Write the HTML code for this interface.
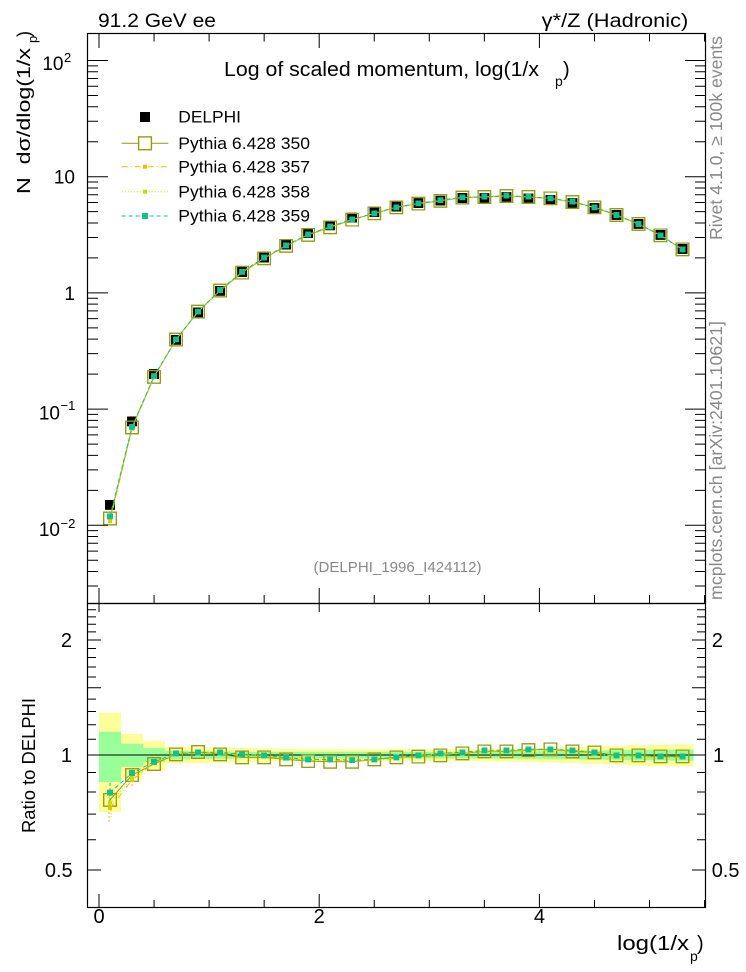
<!DOCTYPE html>
<html>
<head>
<meta charset="utf-8">
<style>
html,body{margin:0;padding:0;background:#fff;}
svg{display:block;}
text{font-family:"Liberation Sans","DejaVu Sans",Arial,sans-serif;fill:#000;}
</style>
</head>
<body>
<svg width="746" height="972" viewBox="0 0 746 972" xmlns="http://www.w3.org/2000/svg">
<defs>
<clipPath id="cm"><rect x="87" y="33" width="619" height="570"/></clipPath>
<clipPath id="cr"><rect x="87" y="603" width="619" height="304"/></clipPath>
<marker id="mD" markerUnits="userSpaceOnUse" markerWidth="10" markerHeight="10" refX="5" refY="5" orient="0"><rect width="10" height="10" fill="#000"/></marker>
<marker id="m350" markerUnits="userSpaceOnUse" markerWidth="14" markerHeight="14" refX="7" refY="7" orient="0"><rect x="0.7" y="0.7" width="12.6" height="12.6" fill="none" stroke="#9a9a10" stroke-width="1.4"/></marker>
<marker id="m357" markerUnits="userSpaceOnUse" markerWidth="4" markerHeight="4" refX="2" refY="2" orient="0"><rect width="4" height="4" fill="#e6c200"/></marker>
<marker id="m358" markerUnits="userSpaceOnUse" markerWidth="4" markerHeight="4" refX="2" refY="2" orient="0"><rect width="4" height="4" fill="#c4dc00"/></marker>
<marker id="m359" markerUnits="userSpaceOnUse" markerWidth="6" markerHeight="6" refX="3" refY="3" orient="0"><rect width="6" height="6" fill="#14c08a"/></marker>
</defs>

<!-- top labels -->
<text x="98" y="27" font-size="19" textLength="118" lengthAdjust="spacingAndGlyphs">91.2 GeV ee</text>
<text x="541.7" y="27" font-size="19" textLength="146.6" lengthAdjust="spacingAndGlyphs">γ*/Z (Hadronic)</text>

<!-- title -->
<text x="224" y="76" font-size="20" textLength="315" lengthAdjust="spacingAndGlyphs">Log of scaled momentum, log(1/x</text>
<text x="555" y="86" font-size="14">p</text>
<text x="563" y="76" font-size="20">)</text>

<!-- y axis label -->
<g transform="translate(30,194) rotate(-90)">
<text x="0" y="0" font-size="18" textLength="146" lengthAdjust="spacingAndGlyphs">N&#160;&#160;dσ/dlog(1/x</text>
<text x="151" y="7" font-size="13">p</text>
<text x="157" y="0" font-size="18">)</text>
</g>

<!-- right side labels -->
<g transform="translate(722,240) rotate(-90)">
<text x="0" y="0" font-size="17.5" style="fill:#888" textLength="204" lengthAdjust="spacingAndGlyphs">Rivet 4.1.0, ≥ 100k events</text>
</g>
<g transform="translate(722,600) rotate(-90)">
<text x="0" y="0" font-size="17.5" style="fill:#888" textLength="279" lengthAdjust="spacingAndGlyphs">mcplots.cern.ch [arXiv:2401.10621]</text>
</g>

<!-- ratio label -->
<g transform="translate(35,833) rotate(-90)">
<text x="0" y="0" font-size="18" textLength="135" lengthAdjust="spacingAndGlyphs">Ratio to DELPHI</text>
</g>

<!-- main y tick labels -->
<text x="63.5" y="70" font-size="19" text-anchor="end">10</text>
<text x="64" y="62" font-size="13">2</text>
<text x="75" y="183.5" font-size="19" text-anchor="end">10</text>
<text x="75" y="300" font-size="19" text-anchor="end">1</text>
<text x="60" y="419.3" font-size="19" text-anchor="end">10</text>
<text x="60.5" y="410" font-size="13">−1</text>
<text x="60" y="536" font-size="19" text-anchor="end">10</text>
<text x="60.5" y="528" font-size="13">−2</text>

<!-- ratio y tick labels -->
<text x="72" y="647" font-size="20" text-anchor="end">2</text>
<text x="72" y="762" font-size="20" text-anchor="end">1</text>
<text x="72.7" y="877" font-size="20" text-anchor="end">0.5</text>
<text x="711.7" y="647" font-size="20">2</text>
<text x="713" y="762" font-size="20">1</text>
<text x="711.7" y="877" font-size="20">0.5</text>

<!-- x tick labels -->
<text x="99" y="923" font-size="20" text-anchor="middle">0</text>
<text x="319.2" y="923" font-size="20" text-anchor="middle">2</text>
<text x="539.4" y="923" font-size="20" text-anchor="middle">4</text>

<!-- x title -->
<text x="617" y="950" font-size="20" textLength="72" lengthAdjust="spacingAndGlyphs">log(1/x</text>
<text x="690" y="961" font-size="14">p</text>
<text x="697" y="950" font-size="20">)</text>

<!-- DELPHI id label -->
<text x="397.5" y="572" font-size="15" text-anchor="middle" style="fill:#888" textLength="168" lengthAdjust="spacingAndGlyphs">(DELPHI_1996_I424112)</text>

<!-- ================= RATIO PANEL ================= -->
<g clip-path="url(#cr)">
<path fill="#ffff99" d="M99,712.76 H121.02 V733.99 H143.04 V741.01 H165.06 V746.91 H187.08 V747.38 H209.10 V747.70 H231.12 V748.02 H253.14 V748.49 H275.16 V748.81 H297.18 V748.97 H341.22 V749.13 H451.32 V748.97 H473.34 V748.81 H495.36 V748.49 H517.38 V748.17 H539.40 V747.70 H561.42 V747.22 H583.44 V746.59 H605.46 V745.96 H627.48 V745.02 H649.50 V744.55 H671.52 V744.40 H693.54 V766.33 H671.52 V766.15 H649.50 V765.62 H627.48 V764.56 H605.46 V763.86 H583.44 V763.16 H561.42 V762.64 H539.40 V762.12 H517.38 V761.77 H495.36 V761.43 H473.34 V761.25 H451.32 V761.08 H341.22 V761.25 H297.18 V761.43 H275.16 V761.77 H253.14 V762.29 H231.12 V762.64 H209.10 V762.99 H187.08 V763.51 H165.06 V770.28 H143.04 V779.06 H121.02 V811.82 H99 Z"/>
<path fill="#99ff99" d="M99,731.81 H121.02 V743.78 H143.04 V748.17 H165.06 V750.90 H187.08 V751.23 H209.10 V751.39 H231.12 V751.71 H495.36 V751.55 H517.38 V751.39 H539.40 V751.23 H561.42 V750.90 H583.44 V750.58 H605.46 V750.25 H627.48 V749.93 H649.50 V749.77 H671.52 V749.61 H693.54 V760.57 H671.52 V760.40 H649.50 V760.23 H627.48 V759.88 H605.46 V759.54 H583.44 V759.20 H561.42 V758.86 H539.40 V758.69 H517.38 V758.52 H495.36 V758.35 H231.12 V758.69 H209.10 V758.86 H187.08 V759.20 H165.06 V762.12 H143.04 V767.04 H121.02 V781.96 H99 Z"/>
<line x1="87" y1="755" x2="706" y2="755" stroke="#000" stroke-width="1"/>

<!-- error bars first points -->
<line x1="110" y1="783" x2="110" y2="803" stroke="#14c08a" stroke-width="1" stroke-dasharray="3,2"/>
<line x1="109" y1="796" x2="109" y2="822" stroke="#e6c200" stroke-width="1" stroke-dasharray="2,2"/>
<line x1="111" y1="792" x2="111" y2="818" stroke="#c4dc00" stroke-width="1" stroke-dasharray="1,2"/>
<line x1="132" y1="768" x2="132" y2="787" stroke="#e6c200" stroke-width="1" stroke-dasharray="2,2"/>

<polyline fill="none" stroke="#9a9a10" stroke-width="1" marker-start="url(#m350)" marker-mid="url(#m350)" marker-end="url(#m350)" points="110.01,799.87 132.03,775.08 154.05,764.03 176.07,754.34 198.09,752.04 220.11,754.34 242.13,757.34 264.15,757.34 286.17,759.37 308.19,761.08 330.21,761.77 352.23,761.77 374.25,759.37 396.27,757.34 418.29,756.67 440.31,755.33 462.33,753.35 484.35,751.39 506.37,751.39 528.39,750.10 550.41,749.29 572.43,751.39 594.45,752.37 616.47,755.33 638.49,755.33 660.51,756.33 682.53,756.33"/>
<polyline fill="none" stroke="#e6c200" stroke-width="1" stroke-dasharray="6,3,1,3" marker-start="url(#m357)" marker-mid="url(#m357)" marker-end="url(#m357)" points="110.01,808.12 132.03,780.02 154.05,762.99 176.07,754.35 198.09,753.37 220.11,753.37 242.13,755.34 264.15,756.33 286.17,758.67 308.19,760.37 330.21,760.37 352.23,761.23 374.25,760.37 396.27,758.34 418.29,756.33 440.31,754.35 462.33,753.37 484.35,751.26 506.37,751.26 528.39,750.29 550.41,750.29 572.43,751.26 594.45,753.37 616.47,756.33 638.49,756.33 660.51,757.33 682.53,757.33"/>
<polyline fill="none" stroke="#c4dc00" stroke-width="1" stroke-dasharray="1,2" marker-start="url(#m358)" marker-mid="url(#m358)" marker-end="url(#m358)" points="110.01,802.73 132.03,778.10 154.05,762.64 176.07,753.85 198.09,752.87 220.11,752.87 242.13,754.84 264.15,755.83 286.17,758.17 308.19,759.87 330.21,759.87 352.23,760.73 374.25,759.87 396.27,757.84 418.29,755.83 440.31,753.85 462.33,752.87 484.35,750.76 506.37,750.76 528.39,749.79 550.41,749.79 572.43,750.76 594.45,752.87 616.47,755.83 638.49,755.83 660.51,756.83 682.53,756.83"/>
<polyline fill="none" stroke="#14c08a" stroke-width="1" stroke-dasharray="4,3" marker-start="url(#m359)" marker-mid="url(#m359)" marker-end="url(#m359)" points="110.01,792.64 132.03,773.03 154.05,761.77 176.07,753.35 198.09,752.37 220.11,752.37 242.13,754.34 264.15,755.33 286.17,757.67 308.19,759.37 330.21,759.37 352.23,760.23 374.25,759.37 396.27,757.34 418.29,755.33 440.31,753.35 462.33,752.37 484.35,750.26 506.37,750.26 528.39,749.29 550.41,749.29 572.43,750.26 594.45,752.37 616.47,755.33 638.49,755.33 660.51,756.33 682.53,756.33"/>
</g>

<!-- ================= MAIN PANEL ================= -->
<g clip-path="url(#cm)">
<polyline fill="none" stroke="none" marker-start="url(#mD)" marker-mid="url(#mD)" marker-end="url(#mD)" points="110.01,504.84 132.03,421.31 154.05,374.12 176.07,339.77 198.09,312.51 220.11,290.78 242.13,271.97 264.15,257.57 286.17,244.49 308.19,233.03 330.21,225.26 352.23,217.67 374.25,211.98 396.27,206.59 418.29,203.16 440.31,200.74 462.33,198.05 484.35,198.13 506.37,197.14 528.39,198.44 550.41,200.02 572.43,203.16 594.45,208.08 616.47,214.91 638.49,223.83 660.51,234.84 682.53,248.93"/>
<polyline fill="none" stroke="#9a9a10" stroke-width="1" marker-start="url(#m350)" marker-mid="url(#m350)" marker-end="url(#m350)" points="110.01,518.49 132.03,427.42 154.05,376.87 176.07,339.57 198.09,311.61 220.11,290.58 242.13,272.68 264.15,258.28 286.17,245.82 308.19,234.88 330.21,227.32 352.23,219.73 374.25,213.31 396.27,207.30 418.29,203.67 440.31,200.84 462.33,197.55 484.35,197.03 506.37,196.04 528.39,196.95 550.41,198.28 572.43,202.06 594.45,207.28 616.47,215.01 638.49,223.93 660.51,235.25 682.53,249.34"/>
<polyline fill="none" stroke="#e6c200" stroke-width="1" stroke-dasharray="6,3,1,3" marker-start="url(#m357)" marker-mid="url(#m357)" marker-end="url(#m357)" points="110.01,521.0 132.03,428.92 154.05,376.55 176.07,339.57 198.09,312.01 220.11,290.28 242.13,272.07 264.15,257.97 286.17,245.60 308.19,234.66 330.21,226.89 352.23,219.56 374.25,213.61 396.27,207.60 418.29,203.56 440.31,200.54 462.33,197.55 484.35,196.99 506.37,196.00 528.39,197.00 550.41,198.58 572.43,202.02 594.45,207.58 616.47,215.31 638.49,224.23 660.51,235.55 682.53,249.64"/>
<polyline fill="none" stroke="#c4dc00" stroke-width="1" stroke-dasharray="1,2" marker-start="url(#m358)" marker-mid="url(#m358)" marker-end="url(#m358)" points="110.01,519.36 132.03,428.34 154.05,376.44 176.07,339.42 198.09,311.86 220.11,290.13 242.13,271.92 264.15,257.82 286.17,245.45 308.19,234.51 330.21,226.74 352.23,219.41 374.25,213.46 396.27,207.45 418.29,203.41 440.31,200.39 462.33,197.40 484.35,196.84 506.37,195.85 528.39,196.85 550.41,198.43 572.43,201.87 594.45,207.43 616.47,215.16 638.49,224.08 660.51,235.40 682.53,249.49"/>
<polyline fill="none" stroke="#14c08a" stroke-width="1" stroke-dasharray="4,3" marker-start="url(#m359)" marker-mid="url(#m359)" marker-end="url(#m359)" points="110.01,516.29 132.03,426.80 154.05,376.18 176.07,339.27 198.09,311.71 220.11,289.98 242.13,271.77 264.15,257.67 286.17,245.30 308.19,234.36 330.21,226.59 352.23,219.26 374.25,213.31 396.27,207.30 418.29,203.26 440.31,200.24 462.33,197.25 484.35,196.69 506.37,195.70 528.39,196.70 550.41,198.28 572.43,201.72 594.45,207.28 616.47,215.01 638.49,223.93 660.51,235.25 682.53,249.34"/>
</g>

<!-- legend -->
<rect x="140" y="112" width="10" height="10" fill="#000"/>
<text x="178.3" y="122.7" font-size="17" textLength="62.7" lengthAdjust="spacingAndGlyphs">DELPHI</text>
<line x1="121.7" y1="143.3" x2="168.3" y2="143.3" stroke="#9a9a10" stroke-width="1"/>
<rect x="138.6" y="136.9" width="12.8" height="12.8" fill="#fff" stroke="#9a9a10" stroke-width="1.4"/>
<text x="178.3" y="149" font-size="17" textLength="131.7" lengthAdjust="spacingAndGlyphs">Pythia 6.428 350</text>
<line x1="121.7" y1="166.7" x2="168.3" y2="166.7" stroke="#e6c200" stroke-width="1" stroke-dasharray="6,3,1,3"/>
<rect x="143" y="164.7" width="4" height="4" fill="#e6c200"/>
<text x="178.3" y="172.5" font-size="17" textLength="131.7" lengthAdjust="spacingAndGlyphs">Pythia 6.428 357</text>
<line x1="121.7" y1="191.7" x2="168.3" y2="191.7" stroke="#c4dc00" stroke-width="1" stroke-dasharray="1,2"/>
<rect x="143" y="189.7" width="4" height="4" fill="#c4dc00"/>
<text x="178.3" y="197.5" font-size="17" textLength="131.7" lengthAdjust="spacingAndGlyphs">Pythia 6.428 358</text>
<line x1="121.7" y1="216" x2="168.3" y2="216" stroke="#14c08a" stroke-width="1" stroke-dasharray="4,3"/>
<rect x="142" y="213" width="6" height="6" fill="#14c08a"/>
<text x="178.3" y="221.7" font-size="17" textLength="131.7" lengthAdjust="spacingAndGlyphs">Pythia 6.428 359</text>

<!-- frames -->
<g fill="none" stroke="#000" stroke-width="1.2">
<rect x="87.5" y="33.5" width="618" height="570"/>
<rect x="87.5" y="603.5" width="618" height="304"/>
</g>

<!-- ticks -->
<g fill="none" stroke="#000" stroke-width="1">
<!-- main y major left/right -->
<path d="M87,60.5h21 M87,176.7h21 M87,292.9h21 M87,409.1h21 M87,525.3h21 M706,60.5h-21 M706,176.7h-21 M706,292.9h-21 M706,409.1h-21 M706,525.3h-21"/>
<!-- main y minor left -->
<path d="M87,141.72h11 M87,121.26h11 M87,106.74h11 M87,95.48h11 M87,86.28h11 M87,78.5h11 M87,71.76h11 M87,65.82h11 M87,257.92h11 M87,237.46h11 M87,222.94h11 M87,211.68h11 M87,202.48h11 M87,194.7h11 M87,187.96h11 M87,182.02h11 M87,374.12h11 M87,353.66h11 M87,339.14h11 M87,327.88h11 M87,318.68h11 M87,310.9h11 M87,304.16h11 M87,298.22h11 M87,490.32h11 M87,469.86h11 M87,455.34h11 M87,444.08h11 M87,434.88h11 M87,427.1h11 M87,420.36h11 M87,414.42h11 M87,586.06h11 M87,571.54h11 M87,560.28h11 M87,551.08h11 M87,543.3h11 M87,536.56h11 M87,530.62h11"/>
<!-- main y minor right -->
<path d="M706,141.72h-11 M706,121.26h-11 M706,106.74h-11 M706,95.48h-11 M706,86.28h-11 M706,78.5h-11 M706,71.76h-11 M706,65.82h-11 M706,257.92h-11 M706,237.46h-11 M706,222.94h-11 M706,211.68h-11 M706,202.48h-11 M706,194.7h-11 M706,187.96h-11 M706,182.02h-11 M706,374.12h-11 M706,353.66h-11 M706,339.14h-11 M706,327.88h-11 M706,318.68h-11 M706,310.9h-11 M706,304.16h-11 M706,298.22h-11 M706,490.32h-11 M706,469.86h-11 M706,455.34h-11 M706,444.08h-11 M706,434.88h-11 M706,427.1h-11 M706,420.36h-11 M706,414.42h-11 M706,586.06h-11 M706,571.54h-11 M706,560.28h-11 M706,551.08h-11 M706,543.3h-11 M706,536.56h-11 M706,530.62h-11"/>
<!-- main x ticks top -->
<path d="M99,33v15 M319.2,33v15 M539.4,33v15 M154.05,33v8.5 M209.1,33v8.5 M264.15,33v8.5 M374.25,33v8.5 M429.3,33v8.5 M484.35,33v8.5 M594.45,33v8.5 M649.5,33v8.5 M704.55,33v8.5"/>
<!-- main x ticks bottom -->
<path d="M99,603v-15 M319.2,603v-15 M539.4,603v-15 M154.05,603v-8 M209.1,603v-8 M264.15,603v-8 M374.25,603v-8 M429.3,603v-8 M484.35,603v-8 M594.45,603v-8 M649.5,603v-8 M704.55,603v-8"/>
<!-- ratio x ticks -->
<path d="M99,603v9 M319.2,603v9 M539.4,603v9"/>
<path d="M99,907v-13 M319.2,907v-13 M539.4,907v-13 M154.05,907v-7 M209.1,907v-7 M264.15,907v-7 M374.25,907v-7 M429.3,907v-7 M484.35,907v-7 M594.45,907v-7 M649.5,907v-7 M704.55,907v-7"/>
<!-- ratio y ticks left -->
<path d="M87,870h14 M87,755h14 M87,687.73h14 M87,640h14 M87,839.75h9 M87,814.17h9 M87,792.02h9 M87,772.48h9 M87,739.19h9 M87,724.75h9 M87,711.47h9 M87,699.18h9 M87,677.03h9 M87,666.97h9 M87,657.49h9 M87,648.52h9 M87,631.91h9 M87,624.2h9 M87,616.82h9 M87,609.76h9"/>
<!-- ratio y ticks right -->
<path d="M706,870h-14 M706,755h-14 M706,687.73h-14 M706,640h-14 M706,839.75h-9 M706,814.17h-9 M706,792.02h-9 M706,772.48h-9 M706,739.19h-9 M706,724.75h-9 M706,711.47h-9 M706,699.18h-9 M706,677.03h-9 M706,666.97h-9 M706,657.49h-9 M706,648.52h-9 M706,631.91h-9 M706,624.2h-9 M706,616.82h-9 M706,609.76h-9"/>
</g>
</svg>
</body>
</html>
